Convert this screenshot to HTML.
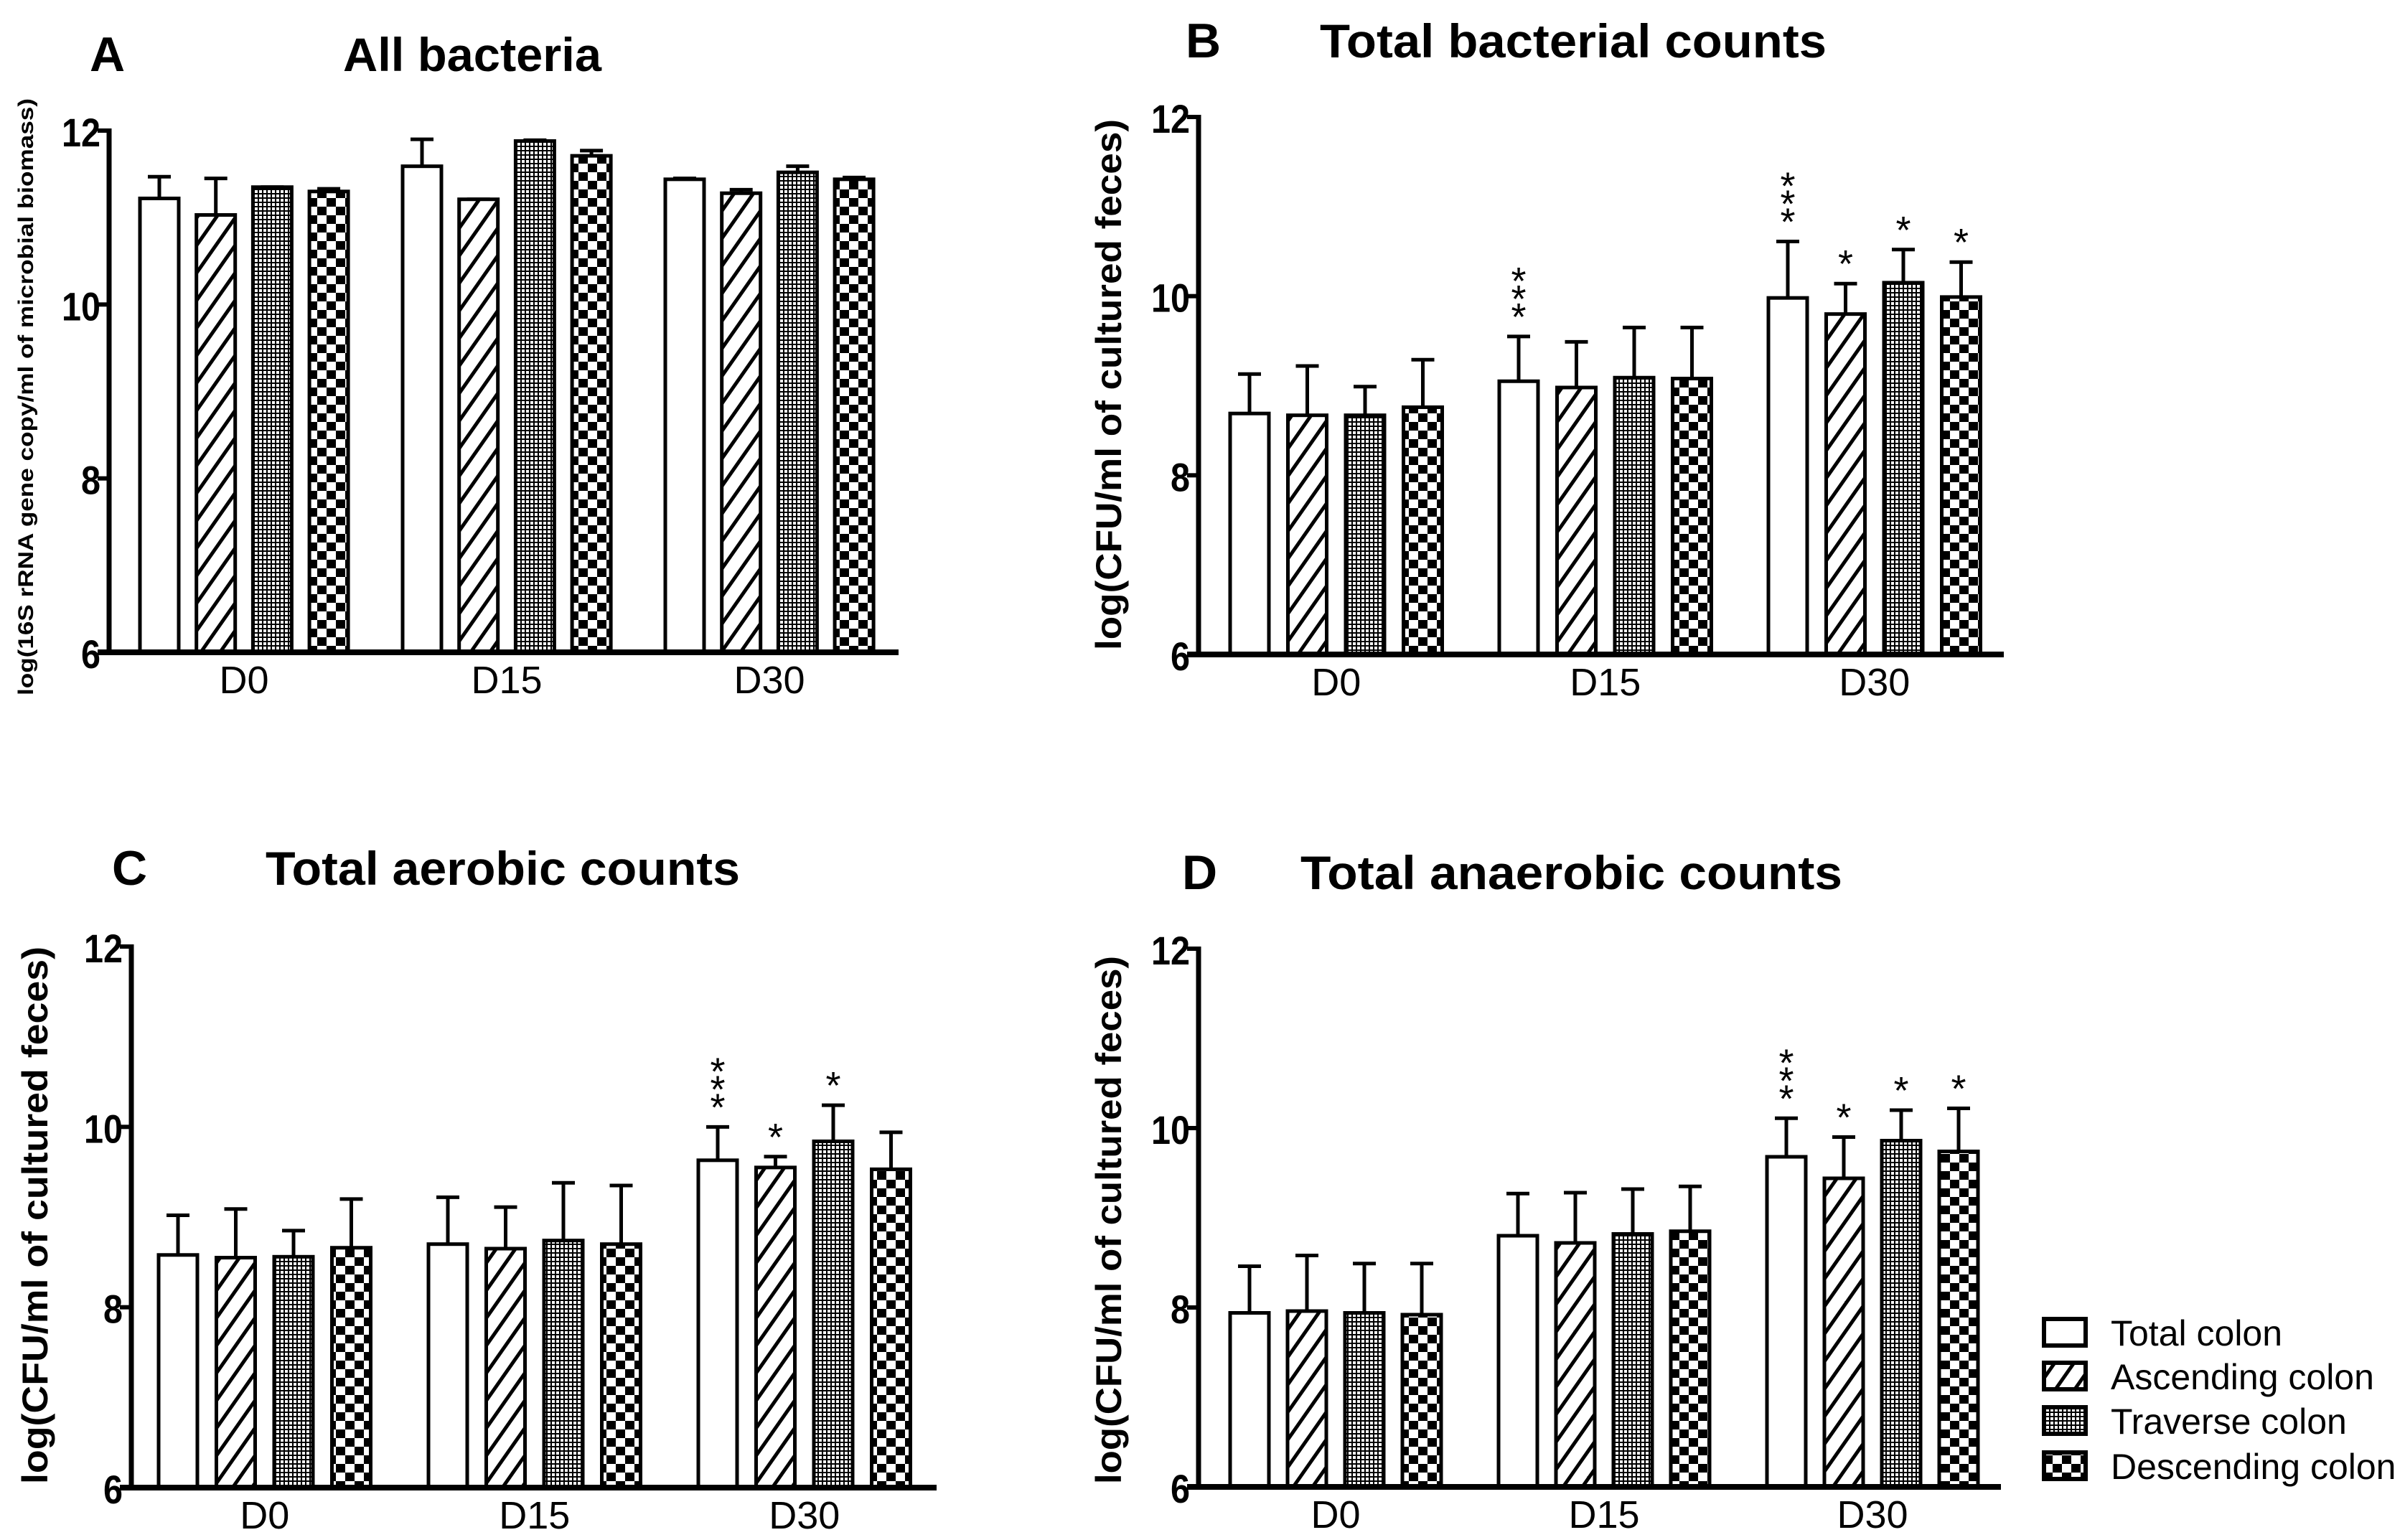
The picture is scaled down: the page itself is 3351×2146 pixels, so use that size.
<!DOCTYPE html>
<html><head><meta charset="utf-8"><style>
html,body{margin:0;padding:0;background:#fff;}
svg{display:block;font-family:"Liberation Sans",Arial,sans-serif;}
</style></head>
<body>
<svg id="fig" width="3351" height="2146" viewBox="0 0 3351 2146" xmlns="http://www.w3.org/2000/svg">
<defs>
<pattern id="hatch" patternUnits="userSpaceOnUse" width="22" height="22" patternTransform="rotate(35)">
<rect width="22" height="22" fill="#fff"/><rect x="0" y="0" width="5" height="22" fill="#000"/>
</pattern>
<pattern id="dots" patternUnits="userSpaceOnUse" width="6" height="6">
<rect width="6" height="6" fill="#000"/><rect x="1" y="1" width="4" height="4" fill="#fff"/>
</pattern>
<pattern id="check" patternUnits="userSpaceOnUse" width="26" height="24">
<rect width="26" height="24" fill="#fff"/><rect x="0" y="0" width="13" height="12" fill="#000"/><rect x="13" y="12" width="13" height="12" fill="#000"/>
</pattern>
</defs>
<g id="root"></g>
</svg>
<script>
// Categories and series
const categories = ["D0", "D15", "D30"];
const seriesNames = ["Total colon", "Ascending colon", "Traverse colon", "Descending colon"];
const yTicks = [6, 8, 10, 12];

// Panel A: All bacteria (values [series][category])
const aMeans = [[11.22, 11.59, 11.44], [11.03, 11.21, 11.28], [11.35, 11.88, 11.52], [11.30, 11.71, 11.44]];
const aErrTops = [[11.47, 11.90, 11.45], [11.45, 11.21, 11.32], [11.35, 11.89, 11.59], [11.33, 11.77, 11.46]];
const aSig = [["", "", ""], ["", "", ""], ["", "", ""], ["", "", ""]];

// Panel B: Total bacterial counts
const bMeans = [[8.69, 9.05, 9.98], [8.67, 8.98, 9.80], [8.67, 9.09, 10.15], [8.76, 9.08, 9.99]];
const bErrTops = [[9.13, 9.55, 10.61], [9.22, 9.49, 10.14], [8.99, 9.65, 10.52], [9.29, 9.65, 10.38]];
const bSig = [["", "***", "***"], ["", "", "*"], ["", "", "*"], ["", "", "*"]];

// Panel C: Total aerobic counts
const cMeans = [[8.58, 8.70, 9.63], [8.55, 8.65, 9.55], [8.56, 8.74, 9.84], [8.66, 8.70, 9.53]];
const cErrTops = [[9.02, 9.22, 10.00], [9.09, 9.11, 9.67], [8.85, 9.38, 10.24], [9.20, 9.35, 9.94]];
const cSig = [["", "", "***"], ["", "", "*"], ["", "", "*"], ["", "", ""]];

// Panel D: Total anaerobic counts
const dMeans = [[7.94, 8.80, 9.68], [7.96, 8.72, 9.44], [7.94, 8.82, 9.86], [7.92, 8.85, 9.74]];
const dErrTops = [[8.46, 9.27, 10.11], [8.58, 9.28, 9.90], [8.49, 9.32, 10.20], [8.49, 9.35, 10.22]];
const dSig = [["", "", "***"], ["", "", "*"], ["", "", "*"], ["", "", "*"]];

const fills = ["#fff", "url(#hatch)", "url(#dots)", "url(#check)"];
const NS = "http://www.w3.org/2000/svg";
const root = document.getElementById("root");

function mk(tag, attrs, parent) {
  const e = document.createElementNS(NS, tag);
  for (const k in attrs) e.setAttribute(k, attrs[k]);
  (parent || root).appendChild(e);
  return e;
}

function panel(cfg, means, errs, sig) {
  const g = mk("g", {});
  
  
  const y = v => cfg.yBot - (v - 6) / 6 * (cfg.yBot - cfg.yTop);
  const bx = (c, s) => cfg.first + c * cfg.gp + s * cfg.bp;
  const bw = 54;
  const L = mk("text", {x: cfg.lx, y: cfg.ty, "font-size": 68, "font-weight": "bold"}, g);
  L.textContent = cfg.letter;
  
  
  const T = mk("text", {x: cfg.tx, y: cfg.ty, "font-size": 66, "font-weight": "bold", textLength: cfg.tw, lengthAdjust: "spacingAndGlyphs"}, g);
  T.textContent = cfg.title;
  
  
  const cy = (cfg.ytTop + cfg.ytBot) / 2;
  const YT = mk("text", {x: cfg.ytx, y: cy, "font-size": cfg.ytSize, "font-weight": "bold", "text-anchor": "middle",
    transform: `rotate(-90 ${cfg.ytx} ${cy})`, textLength: cfg.ytBot - cfg.ytTop, lengthAdjust: "spacingAndGlyphs"}, g);
  YT.textContent = cfg.ytitle;
  
  
  for (let s = 0; s < 4; s++) {
    for (let c = 0; c < 3; c++) {
      const x = bx(c, s), top = y(means[s][c]), et = y(errs[s][c]);
      const cx = x + bw / 2;
      if (et < top - 1) {
        const eb = mk("line", {x1: cx, x2: cx, y1: top, y2: et, stroke: "#000", "stroke-width": 5}, g);
        
        
      }
      const cap = mk("line", {x1: cx - 16, x2: cx + 16, y1: et, y2: et, stroke: "#000", "stroke-width": 5}, g);
      
      
      const r = mk("rect", {x: x, y: top, width: bw, height: cfg.yBot - top, fill: fills[s], stroke: "#000", "stroke-width": 5}, g);
      
      
      const n = sig[s][c].length;
      for (let k = 0; k < n; k++) {
        const st = mk("text", {x: cx, y: et - 38 - k * 25 + 29, "font-size": 54, "text-anchor": "middle"}, g);
        st.textContent = "*";
        
        
      }
    }
  }
  const ya = mk("line", {x1: cfg.ax, x2: cfg.ax, y1: cfg.yTop - 3, y2: cfg.yBot + 3, stroke: "#000", "stroke-width": 7}, g);
  
  
  const xa = mk("line", {x1: cfg.ax - 16, x2: cfg.xEnd, y1: cfg.yBot, y2: cfg.yBot, stroke: "#000", "stroke-width": 8}, g);
  
  
  for (const t of yTicks) {
    const tk = mk("line", {x1: cfg.ax - 16, x2: cfg.ax, y1: y(t), y2: y(t), stroke: "#000", "stroke-width": 6}, g);
    
    
    const tl = mk("text", {x: cfg.ax - 12, y: y(t) + 22, "font-size": 56, "font-weight": "bold", "text-anchor": "end", textLength: t >= 10 ? 54 : 27, lengthAdjust: "spacingAndGlyphs"}, g);
    tl.textContent = t;
    
    
  }
  for (let c = 0; c < 3; c++) {
    const cx = bx(c, 0) + 1.5 * cfg.bp + bw / 2;
    const cl = mk("text", {x: cx, y: cfg.yBot + 57, "font-size": 54, "text-anchor": "middle"}, g);
    cl.textContent = categories[c];
    
    
  }
}

panel({name: "panel-a", letter: "A", title: "All bacteria", lx: 125, tx: 478, tw: 360, ty: 99,
  ax: 152, yTop: 182, yBot: 909, xEnd: 1252, first: 195, bp: 78.7, gp: 366,
  ytitle: "log(16S rRNA gene copy/ml of microbial biomass)", ytx: 46, ytTop: 137, ytBot: 969, ytSize: 30},
  aMeans, aErrTops, aSig);
panel({name: "panel-b", letter: "B", title: "Total bacterial counts", lx: 1652, tx: 1839, tw: 706, ty: 80,
  ax: 1670, yTop: 163, yBot: 912, xEnd: 2792, first: 1714, bp: 80.5, gp: 375,
  ytitle: "log(CFU/ml of cultured feces)", ytx: 1562, ytTop: 166, ytBot: 906, ytSize: 50},
  bMeans, bErrTops, bSig);
panel({name: "panel-c", letter: "C", title: "Total aerobic counts", lx: 156, tx: 370, tw: 661, ty: 1233,
  ax: 183, yTop: 1319, yBot: 2073, xEnd: 1305, first: 221, bp: 80.5, gp: 376,
  ytitle: "log(CFU/ml of cultured feces)", ytx: 66, ytTop: 1319, ytBot: 2068, ytSize: 50},
  cMeans, cErrTops, cSig);
panel({name: "panel-d", letter: "D", title: "Total anaerobic counts", lx: 1647, tx: 1812, tw: 755, ty: 1239,
  ax: 1670, yTop: 1322, yBot: 2072, xEnd: 2788, first: 1714, bp: 80, gp: 374,
  ytitle: "log(CFU/ml of cultured feces)", ytx: 1562, ytTop: 1332, ytBot: 2068, ytSize: 50},
  dMeans, dErrTops, dSig);

const legY = [1838, 1899, 1961, 2024];
const lg = mk("g", {});


for (let s = 0; s < 4; s++) {
  const b = mk("rect", {x: 2848, y: legY[s], width: 58, height: 37, fill: fills[s], stroke: "#000", "stroke-width": 6}, lg);
  
  
  const t = mk("text", {x: 2941, y: legY[s] + 37, "font-size": 50}, lg);
  t.textContent = seriesNames[s];
  
  
}
</script>
</body></html>
